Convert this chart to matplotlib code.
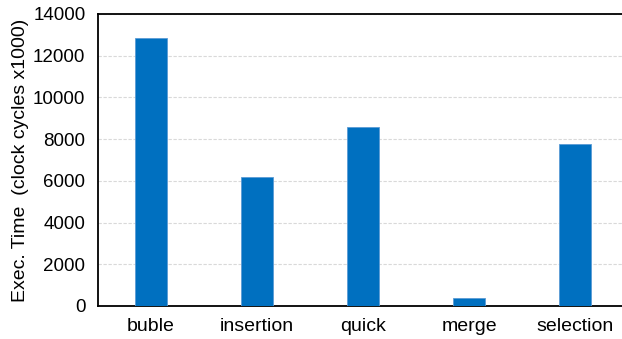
import matplotlib
matplotlib.use("Agg")
import matplotlib.pyplot as plt

algorithms = ["buble", "insertion", "quick", "merge", "selection"]
exec_time = [12850, 6170, 8570, 370, 7760]
y_ticks = [0, 2000, 4000, 6000, 8000, 10000, 12000, 14000]

plt.rcParams['font.family'] = ['Liberation Sans', 'DejaVu Sans']

fig = plt.figure(figsize=(6.22, 3.39), dpi=100)
# axes runs a little past the right edge of the figure
ax = fig.add_axes([98 / 622, 33 / 339, 530 / 622, 292 / 339])

x = range(len(algorithms))
ax.bar(x, exec_time, width=0.31, color="#0070c0", edgecolor="#5b9bd5", linewidth=0.6, zorder=3)

ax.set_xlim(-0.5, len(algorithms) - 0.5)
ax.set_ylim(0, 14000)
ax.set_yticks(y_ticks)
ax.set_xticks(list(x))
ax.set_xticklabels(algorithms)
ax.tick_params(axis="x", length=0, labelsize=14, pad=8.5)
ax.tick_params(axis="y", length=0, labelsize=13.5, pad=9)

ax.grid(axis="y", color="#d9d9d9", linestyle=(0, (3, 1.5)), linewidth=0.8, zorder=0)
for side in ["left", "top", "bottom"]:
    ax.spines[side].set_color("black")
    ax.spines[side].set_linewidth(1.3)
ax.spines["right"].set_visible(False)

ax.set_ylabel("Exec. Time  (clock cycles x1000)", fontsize=14, labelpad=3)

fig.savefig("out.png", dpi=100)
